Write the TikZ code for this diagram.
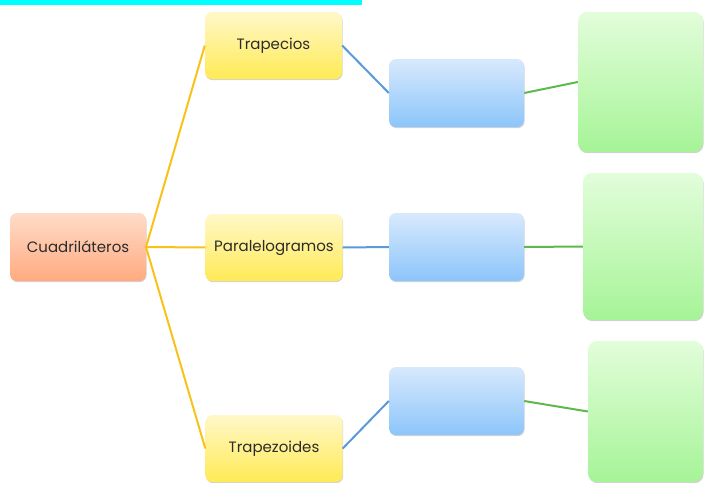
\documentclass[tikz,border=0pt]{standalone}
\usepackage{fontspec}
\setmainfont{Poppins}
\usetikzlibrary{shadows}
\definecolor{orT}{HTML}{FFDCC8}
\definecolor{orB}{HTML}{FFAA80}
\definecolor{yeT}{HTML}{FFF8C8}
\definecolor{yeB}{HTML}{FFEA55}
\definecolor{blT}{HTML}{D8E9FC}
\definecolor{blB}{HTML}{8CC5FB}
\definecolor{grT}{HTML}{E2FDDA}
\definecolor{grB}{HTML}{A6F497}
\definecolor{lnY}{HTML}{F8C21A}
\definecolor{lnB}{HTML}{5A9AD8}
\definecolor{lnG}{HTML}{5EB84A}
\definecolor{txt}{HTML}{2B2B2B}
\definecolor{bar}{HTML}{00FFFF}
\tikzset{
  box/.style={rounded corners=7pt, inner sep=0pt, font=\fontsize{15}{17}\selectfont, text=txt,
    drop shadow={shadow xshift=0.6pt, shadow yshift=-1.2pt, opacity=0.35, fill=gray}},
  orbox/.style={box, top color=orT, bottom color=orB, minimum width=136pt, minimum height=68pt},
  yebox/.style={box, top color=yeT, bottom color=yeB, minimum width=137pt, minimum height=67pt},
  blbox/.style={box, top color=blT, bottom color=blB, minimum width=135pt, minimum height=68pt},
  grbox/.style={box, rounded corners=9pt, top color=grT, bottom color=grB},
  ly/.style={draw=lnY, line width=2pt},
  lb/.style={draw=lnB, line width=2pt},
  lg/.style={draw=lnG, line width=2pt}
}
\begin{document}
\begin{tikzpicture}[x=1pt,y=-1pt]
\useasboundingbox (0,0) rectangle (704,482);
\fill[bar] (0,0) rectangle (362,5);
% level 0
\node[orbox] (cua) at (78,247) {Cuadriláteros};
% level 1
\node[yebox] (tra) at (273.5,45.5) {Trapecios};
\node[yebox] (par) at (274,247.5) {Paralelogramos};
\node[yebox] (tpz) at (274,448.5) {Trapezoides};
% level 2
\node[blbox] (b1) at (456.5,93) {};
\node[blbox] (b2) at (456.5,247) {};
\node[blbox] (b3) at (456.5,401) {};
% level 3
\node[grbox, minimum width=125pt, minimum height=140pt] (g1) at (640.5,82) {};
\node[grbox, minimum width=120pt, minimum height=147pt] (g2) at (643,246.5) {};
\node[grbox, minimum width=115pt, minimum height=141pt] (g3) at (645.5,411.5) {};
% connectors
\coordinate (c0) at (146,247);
\draw[ly] (c0) -- (tra.west);
\draw[ly] (c0) -- (par.west);
\draw[ly] (c0) -- (tpz.west);
\draw[lb] (tra.east) -- (b1.west);
\draw[lb] (par.east) -- (b2.west);
\draw[lb] (tpz.east) -- (b3.west);
\draw[lg] (b1.east) -- (g1.west);
\draw[lg] (b2.east) -- (g2.west);
\draw[lg] (b3.east) -- (g3.west);
\end{tikzpicture}
\end{document}
